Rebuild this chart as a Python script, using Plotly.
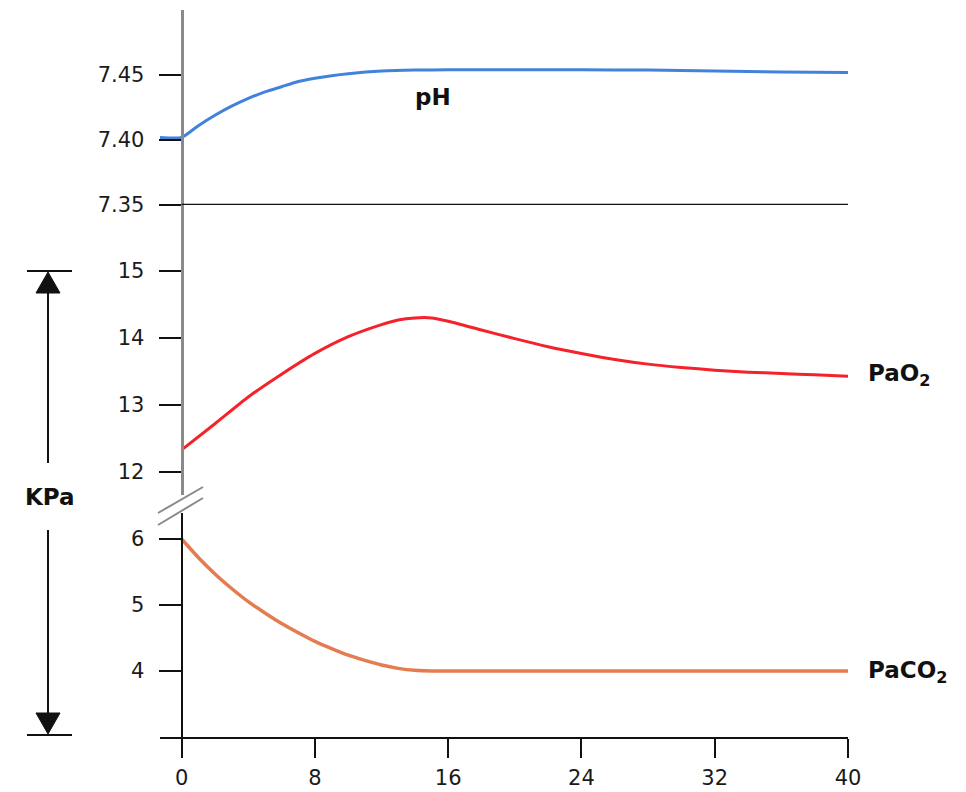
import plotly.graph_objects as go

# ---- data ----
ph_x = [-1.3, 0, 1, 2, 3, 4, 5, 6, 7, 8, 9, 10, 12, 14, 16, 20, 24, 28, 32, 36, 40]
ph_y = [7.402, 7.402, 7.411, 7.419, 7.426, 7.432, 7.437, 7.441, 7.445, 7.4475, 7.4495, 7.451,
        7.453, 7.4538, 7.454, 7.454, 7.454, 7.4538, 7.453, 7.4524, 7.452]

pao2_x = [0, 2, 4, 6, 8, 10, 12, 13, 14, 15, 16, 18, 20, 22, 24, 26, 28, 30, 32, 34, 36, 38, 40]
pao2_y = [12.33, 12.72, 13.12, 13.46, 13.77, 14.02, 14.20, 14.27, 14.30, 14.30, 14.25, 14.12,
          13.99, 13.87, 13.77, 13.68, 13.61, 13.56, 13.52, 13.49, 13.47, 13.45, 13.43]

paco2_x = [0, 1, 2, 3, 4, 5, 6, 7, 8, 9, 10, 11, 12, 13, 14, 15, 16, 24, 32, 40]
paco2_y = [6.0, 5.72, 5.47, 5.25, 5.05, 4.88, 4.72, 4.58, 4.45, 4.34, 4.24, 4.16, 4.09, 4.04,
           4.01, 4.0, 4.0, 4.0, 4.0, 4.0]

x_ticks = [0, 8, 16, 24, 32, 40]
ph_ticks = [7.35, 7.40, 7.45]
ph_tick_text = ["7.35", "7.40", "7.45"]
pao2_ticks = [12, 13, 14, 15]
paco2_ticks = [4, 5, 6]

# ---- layout geometry (pixels -> paper) ----
W, H = 966, 792
L, R, T, B = 160, 118, 10, 55
PW, PH = W - L - R, H - T - B


def fx(px):
    return (px - L) / PW


def fy(py):
    return (H - B - py) / PH


XMIN = -1.3
axis_pos = (0 - XMIN) / (40 - XMIN)

FONT = "DejaVu Sans"
tickfont = dict(family=FONT, size=21, color="#1a1a1a")
GRAY = "#8a8a8a"

fig = go.Figure()
fig.add_trace(go.Scatter(x=ph_x, y=ph_y, mode="lines", yaxis="y3",
                         line=dict(color="#4282da", width=3, shape="spline", smoothing=0.6),
                         hoverinfo="skip"))
fig.add_trace(go.Scatter(x=pao2_x, y=pao2_y, mode="lines", yaxis="y2",
                         line=dict(color="#f5222a", width=3, shape="spline", smoothing=0.6),
                         hoverinfo="skip"))
fig.add_trace(go.Scatter(x=paco2_x, y=paco2_y, mode="lines", yaxis="y",
                         line=dict(color="#e47c50", width=3.5, shape="spline", smoothing=0.6),
                         hoverinfo="skip"))

common_y = dict(showgrid=False, zeroline=False, ticks="outside", ticklen=22, tickwidth=2,
                tickcolor="#111", tickfont=tickfont, anchor="free", position=axis_pos,
                ticklabelstandoff=10, fixedrange=True, automargin=False)

fig.update_layout(
    width=W, height=H,
    margin=dict(l=L, r=R, t=T, b=B, autoexpand=False),
    paper_bgcolor="white", plot_bgcolor="white",
    showlegend=False,
    xaxis=dict(range=[XMIN, 40], tickvals=x_ticks, showgrid=False, zeroline=False,
               showline=True, linecolor="#111", linewidth=2, ticks="outside", ticklen=19,
               tickwidth=2, tickcolor="#111", tickfont=tickfont, ticklabelstandoff=2,
               anchor="y", automargin=False, fixedrange=True),
    yaxis=dict(domain=[0, fy(513)], range=[3, 3 + 224 / 66], tickvals=paco2_ticks,
               showline=True, linecolor="#111", linewidth=2, **common_y),
    yaxis2=dict(domain=[fy(495), fy(205)], range=[12 - 23 / 67, 12 + 267 / 67],
                tickvals=pao2_ticks, showline=True, linecolor=GRAY, linewidth=3, **common_y),
    yaxis3=dict(domain=[fy(205), 1], range=[7.35, 7.50], tickvals=ph_ticks,
                ticktext=ph_tick_text, showline=True, linecolor=GRAY, linewidth=3, **common_y),
)

shapes = []
# 7.35 separator line
shapes.append(dict(type="line", xref="x", yref="y3", x0=0, x1=40, y0=7.35, y1=7.35,
                   line=dict(color="#111", width=2.5)))
# axis break marks
for y_a, y_b in [(513, 487), (525, 498)]:
    shapes.append(dict(type="line", xref="paper", yref="paper", x0=fx(158), x1=fx(203),
                       y0=fy(y_a), y1=fy(y_b), line=dict(color=GRAY, width=2)))
# KPa double arrow
AX = 48
shapes.append(dict(type="line", xref="paper", yref="paper", x0=fx(AX), x1=fx(AX),
                   y0=fy(283), y1=fy(463), line=dict(color="#111", width=2)))
shapes.append(dict(type="line", xref="paper", yref="paper", x0=fx(AX), x1=fx(AX),
                   y0=fy(530), y1=fy(715), line=dict(color="#111", width=2)))
for cy in (271, 735):
    shapes.append(dict(type="line", xref="paper", yref="paper", x0=fx(27), x1=fx(72),
                       y0=fy(cy), y1=fy(cy), line=dict(color="#111", width=2)))
up = f"M {fx(AX)} {fy(272)} L {fx(36)} {fy(293)} L {fx(60)} {fy(293)} Z"
down = f"M {fx(AX)} {fy(734)} L {fx(36)} {fy(713)} L {fx(60)} {fy(713)} Z"
for p in (up, down):
    shapes.append(dict(type="path", xref="paper", yref="paper", path=p,
                       fillcolor="#111", line=dict(color="#111", width=1)))
fig.update_layout(shapes=shapes)

lab_font = dict(family=FONT, size=23, color="#111")
fig.add_annotation(x=15.07, y=7.433, xref="x", yref="y3", text="<b>pH</b>", showarrow=False,
                   xanchor="center", yanchor="middle", font=lab_font)
fig.add_annotation(x=fx(866), y=fy(375), xref="paper", yref="paper",
                   text="<b>PaO<sub>2</sub></b>", showarrow=False, xanchor="left",
                   yanchor="middle", font=lab_font)
fig.add_annotation(x=fx(866), y=fy(672), xref="paper", yref="paper",
                   text="<b>PaCO<sub>2</sub></b>", showarrow=False, xanchor="left",
                   yanchor="middle", font=lab_font)
fig.add_annotation(x=fx(50), y=fy(497), xref="paper", yref="paper", text="<b>KPa</b>",
                   showarrow=False, xanchor="center", yanchor="middle", font=lab_font)

fig.write_html("out.html", config={"displayModeBar": False})
